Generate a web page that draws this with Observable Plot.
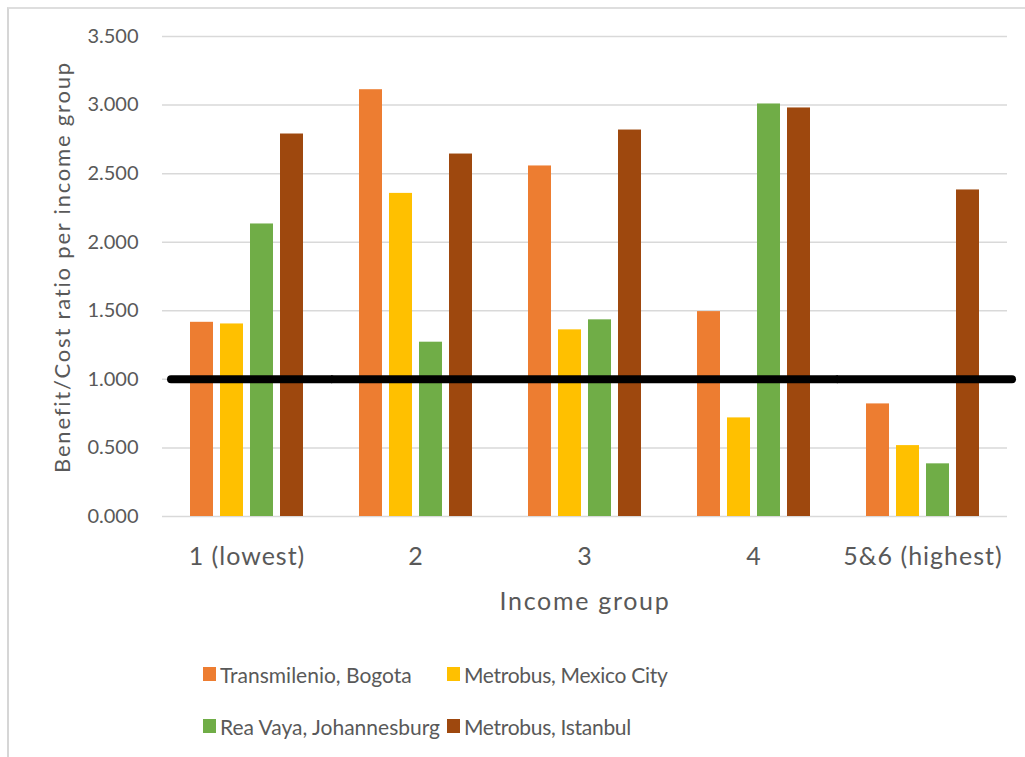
<!DOCTYPE html>
<html>
<head>
<meta charset="utf-8">
<script src="https://cdn.jsdelivr.net/npm/d3@7"></script>
<script src="https://cdn.jsdelivr.net/npm/@observablehq/plot@0.6"></script>
<style>
  html, body { margin: 0; padding: 0; background: #ffffff; }
  #wrap { position: relative; width: 1025px; height: 757px; overflow: hidden; font-family: Lato, "Open Sans", sans-serif; }
  #frame { position: absolute; left: 7px; top: 7px; width: 1100px; height: 800px; border-left: 2px solid #d6d6d6; border-top: 2px solid #dedede; box-sizing: border-box; }
  #chart { position: absolute; left: 0; top: 0; }
  #chart g[aria-label="fx-axis tick label"] { letter-spacing: 1px; }
  #chart g[aria-description="x-title"] { letter-spacing: 1.7px; }
  #chart g[aria-description="y-title"] { letter-spacing: 1.8px; }
  #legend { position: absolute; left: 203px; top: 648px; display: grid; grid-template-columns: 244px auto; grid-auto-rows: 52px; color: #595959; font-size: 21px; }
  .item { display: flex; align-items: center; white-space: nowrap; }
  .sw { width: 13px; height: 14px; margin-right: 4px; flex: none; }
  .lbl2 { letter-spacing: -0.3px; }
</style>
</head>
<body>
<div id="wrap">
  <div id="frame"></div>
  <div id="chart"></div>
  <div id="legend"></div>
</div>
<script>
// ---- data ----
const groups = ["1 (lowest)", "2", "3", "4", "5&6 (highest)"];
const seriesNames = ["Transmilenio, Bogota", "Metrobus, Mexico City", "Rea Vaya, Johannesburg", "Metrobus, Istanbul"];
const bogota       = [1.416, 3.112, 2.556, 1.494, 0.821];
const mexicoCity   = [1.404, 2.356, 1.361, 0.719, 0.517];
const johannesburg = [2.133, 1.271, 1.434, 3.008, 0.384];
const istanbul     = [2.789, 2.643, 2.818, 2.979, 2.381];
const yTicks = [0, 0.5, 1.0, 1.5, 2.0, 2.5, 3.0, 3.5];
const threshold = 1.0;
const colors = ["#ED7D31", "#FFC000", "#70AD47", "#9E480E"];
const yTitle = "Benefit/Cost ratio per income group";
const xTitle = "Income group";

const seriesValues = [bogota, mexicoCity, johannesburg, istanbul];
const rows = [];
groups.forEach((g, gi) => {
  seriesNames.forEach((s, si) => rows.push({group: g, series: s, value: seriesValues[si][gi]}));
});
const thresholdRows = groups.map(g => ({group: g, value: threshold}));

const textColor = "#595959";
const ruleStyle = {fx: "group", y: "value", stroke: "#000000", strokeWidth: 8};
const chart = Plot.plot({
  width: 1025,
  height: 640,
  marginLeft: 161,
  marginRight: 17,
  marginTop: 36,
  marginBottom: 124,
  style: {fontFamily: "Lato, 'Open Sans', sans-serif", color: textColor, background: "transparent", overflow: "visible"},
  fx: {domain: groups, padding: 0, label: null},
  x: {domain: seriesNames, paddingInner: 0.23, paddingOuter: 0.89, axis: null},
  y: {domain: [0, 3.5], label: null},
  color: {domain: seriesNames, range: colors},
  marks: [
    Plot.gridY(yTicks, {stroke: "#d9d9d9", strokeOpacity: 1, strokeWidth: 1.5}),
    Plot.barY(rows, {fx: "group", x: "series", y: "value", fill: "series"}),
    Plot.ruleY(thresholdRows.slice(1, 4), {...ruleStyle, strokeLinecap: "butt"}),
    Plot.ruleY(thresholdRows.slice(0, 1), {...ruleStyle, strokeLinecap: "round", insetLeft: 9}),
    Plot.ruleY(thresholdRows.slice(4), {...ruleStyle, strokeLinecap: "round", insetRight: -5}),
    Plot.axisY(yTicks, {tickSize: 0, tickPadding: 24, tickFormat: d3.format(".3f"), fontSize: 20, fill: textColor, label: null}),
    Plot.axisFx({anchor: "bottom", tickSize: 0, tickPadding: 31, fontSize: 25, fill: textColor, label: null}),
    Plot.text([yTitle], {facet: "super", frameAnchor: "left", textAnchor: "middle", rotate: -90, dx: -100, dy: -9.5, fontSize: 22, fill: textColor, ariaDescription: "y-title"}),
    Plot.text([xTitle], {facet: "super", frameAnchor: "bottom", textAnchor: "middle", lineAnchor: "top", dy: 76, fontSize: 25, fill: textColor, ariaDescription: "x-title"})
  ]
});
document.getElementById("chart").appendChild(chart);

const legend = document.getElementById("legend");
seriesNames.forEach((s, i) => {
  const item = document.createElement("div");
  item.className = "item";
  const sw = document.createElement("span");
  sw.className = "sw";
  sw.style.background = colors[i];
  const label = document.createElement("span");
  label.textContent = s;
  if (i % 2 === 1) label.className = "lbl2";
  item.appendChild(sw);
  item.appendChild(label);
  legend.appendChild(item);
});
</script>
</body>
</html>
